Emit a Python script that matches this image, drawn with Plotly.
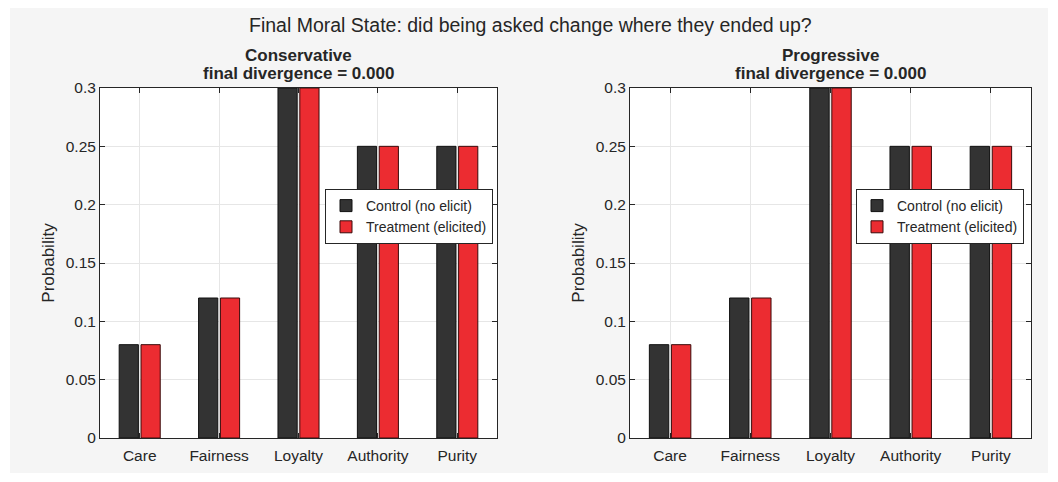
import plotly.graph_objects as go
from plotly.subplots import make_subplots

categories = ["Care", "Fairness", "Loyalty", "Authority", "Purity"]
conservative_control = [0.08, 0.12, 0.30, 0.25, 0.25]
conservative_treatment = [0.08, 0.12, 0.30, 0.25, 0.25]
progressive_control = [0.08, 0.12, 0.30, 0.25, 0.25]
progressive_treatment = [0.08, 0.12, 0.30, 0.25, 0.25]
panel_names = ["Conservative", "Progressive"]
panel_divergence = ["final divergence = 0.000", "final divergence = 0.000"]
y_ticks = [0, 0.05, 0.1, 0.15, 0.2, 0.25, 0.3]
y_ticklabels = ["0", "0.05", "0.1", "0.15", "0.2", "0.25", "0.3"]
series_names = ["Control (no elicit)", "Treatment (elicited)"]

W, H = 1058, 482
FONT = "Liberation Sans, Arial, Helvetica, sans-serif"
TXT = "#262626"
DARK = "#333333"
RED = "#ec2c31"
PANEL = "#f5f5f5"

fig = make_subplots(rows=1, cols=2, horizontal_spacing=0.1)

data = [(conservative_control, conservative_treatment, "legend"),
        (progressive_control, progressive_treatment, "legend2")]
for i, (ctrl, trt, lg) in enumerate(data):
    col = i + 1
    fig.add_trace(go.Bar(x=categories, y=ctrl, name=series_names[0],
                         marker=dict(color=DARK, line=dict(color="#111111", width=1)),
                         legend=lg, hoverinfo="y"), row=1, col=col)
    fig.add_trace(go.Bar(x=categories, y=trt, name=series_names[1],
                         marker=dict(color=RED, line=dict(color="#3a0a0a", width=1)),
                         legend=lg, hoverinfo="y"), row=1, col=col)

def px_x(p):
    return p / W

def px_y(p):
    return 1 - p / H

left_dom = [px_x(100), px_x(497)]
right_dom = [px_x(630), px_x(1031)]
y_dom = [px_y(438), px_y(88)]

axis_common = dict(showline=True, linecolor=TXT, linewidth=1, mirror="ticks",
                   ticks="inside", ticklen=5, tickcolor=TXT, showgrid=True,
                   gridcolor="#e6e6e6", gridwidth=1, zeroline=False,
                   automargin=False,
                   tickfont=dict(family=FONT, size=15.5, color=TXT))

fig.update_xaxes(**axis_common)
fig.update_yaxes(**axis_common)
fig.update_xaxes(range=[-0.5, 4.5], domain=left_dom, ticklabelstandoff=3, row=1, col=1)
fig.update_xaxes(range=[-0.5, 4.5], domain=right_dom, ticklabelstandoff=3, row=1, col=2)
for col in (1, 2):
    fig.update_yaxes(range=[0, 0.3], domain=y_dom, tickvals=y_ticks,
                     ticktext=y_ticklabels,
                     title=dict(text="Probability", font=dict(family=FONT, size=17, color=TXT),
                                standoff=6),
                     row=1, col=col)

legend_style = dict(bgcolor="white", bordercolor=TXT, borderwidth=1,
                    font=dict(family=FONT, size=14, color=TXT),
                    xanchor="right", yanchor="top", itemwidth=30,
                    tracegroupgap=0, xref="paper", yref="paper")

fig.update_layout(
    width=W, height=H,
    margin=dict(l=0, r=0, t=0, b=0, autoexpand=False),
    paper_bgcolor=PANEL, plot_bgcolor="white",
    barmode="group", bargap=0.45, bargroupgap=0.12,
    font=dict(family=FONT, color=TXT),
    showlegend=True,
    legend=dict(x=px_x(493), y=px_y(189), **legend_style),
    legend2=dict(x=px_x(1024), y=px_y(189), **legend_style),
)

# Figure title and panel titles
fig.add_annotation(text="Final Moral State: did being asked change where they ended up?",
                   xref="paper", yref="paper", x=px_x(530), y=px_y(25),
                   xanchor="center", yanchor="middle", showarrow=False,
                   font=dict(family=FONT, size=19.5, color=TXT))
centers = [(100 + 497) / 2, (630 + 1031) / 2]
for name, div, c in zip(panel_names, panel_divergence, centers):
    fig.add_annotation(text="<b>" + name + "</b>", xref="paper", yref="paper",
                       x=px_x(c), y=px_y(55), xanchor="center", yanchor="middle",
                       showarrow=False, font=dict(family=FONT, size=17, color=TXT))
    fig.add_annotation(text="<b>" + div + "</b>", xref="paper", yref="paper",
                       x=px_x(c), y=px_y(73), xanchor="center", yanchor="middle",
                       showarrow=False, font=dict(family=FONT, size=17, color=TXT))

# White page margin around the grey figure panel
strips = [(0, 0, 10, H), (1048, 0, W, H), (0, 0, W, 8), (0, 473, W, H)]
for x0, y0, x1, y1 in strips:
    fig.add_shape(type="rect", xref="paper", yref="paper",
                  x0=px_x(x0), x1=px_x(x1), y0=px_y(y1), y1=px_y(y0),
                  fillcolor="white", line=dict(width=0), layer="below")

fig.write_html("out.html")
